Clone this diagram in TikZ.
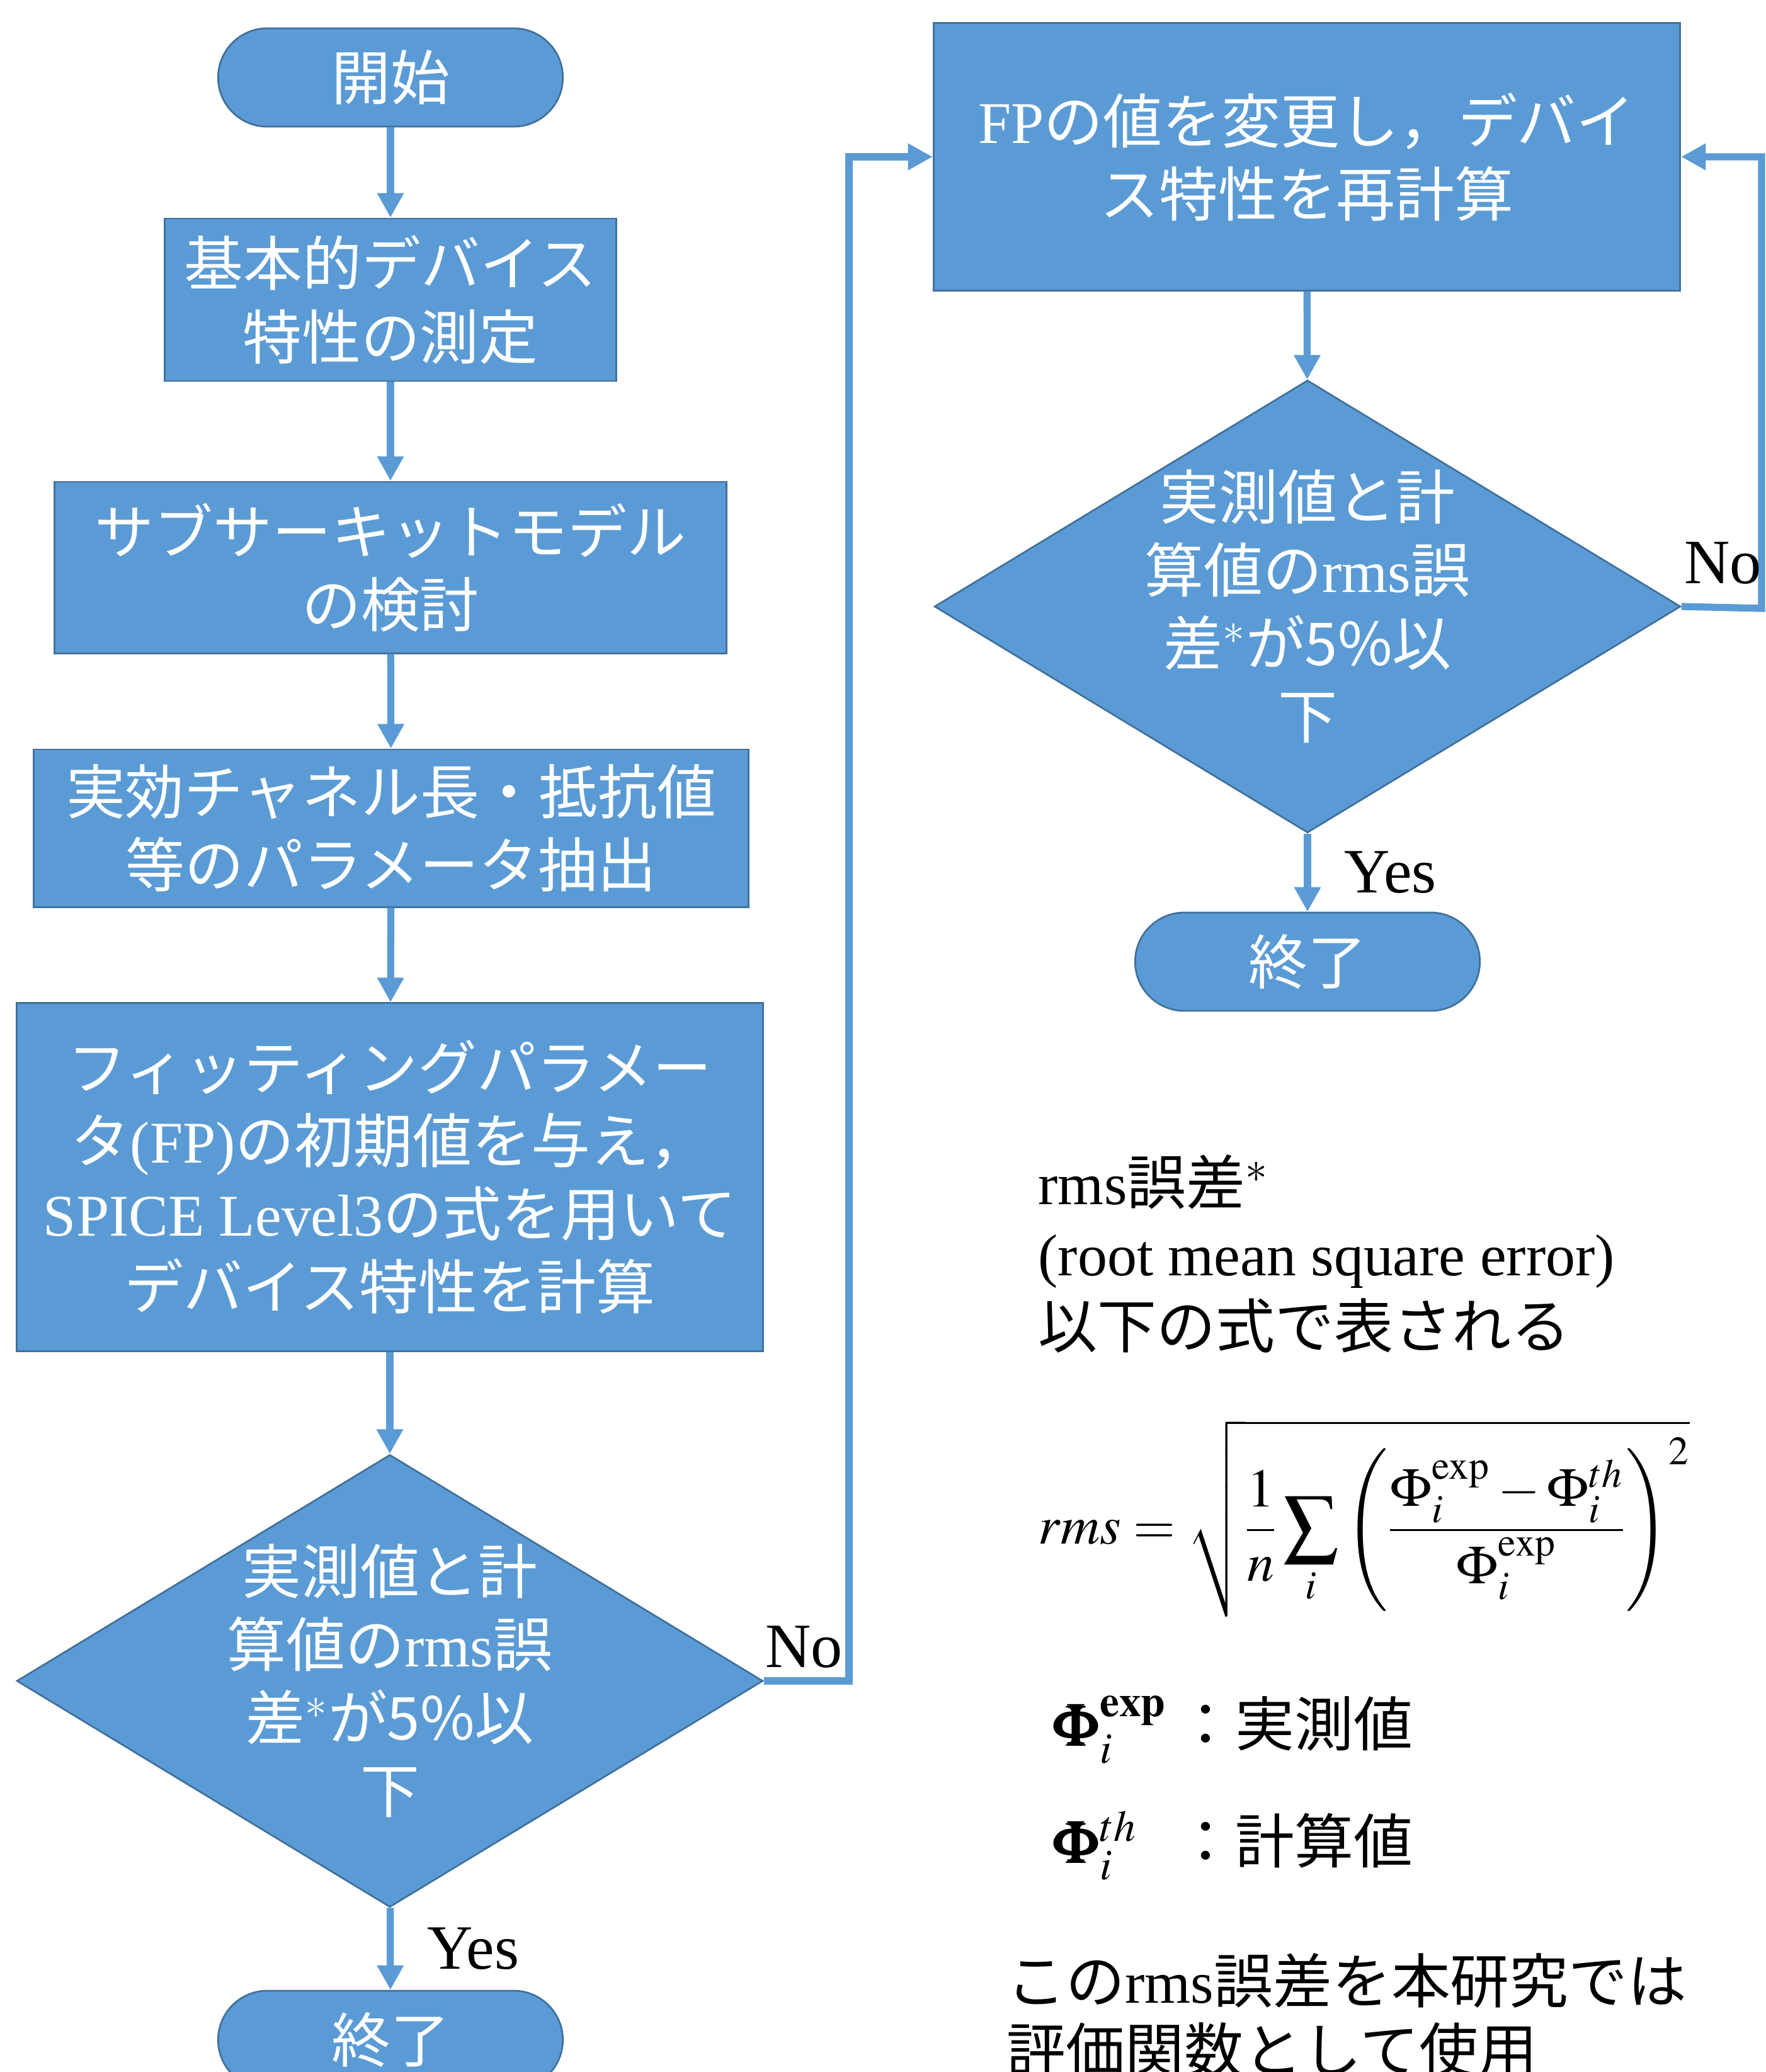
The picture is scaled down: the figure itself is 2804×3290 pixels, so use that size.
\documentclass[tikz,border=0pt]{standalone}
\usepackage{amsmath}
\usepackage{mathptmx}
\usepackage[no-math]{fontspec}
\setmainfont{Liberation Serif}
\newfontfamily\jp{Noto Sans CJK JP}
\usetikzlibrary{shapes.geometric,arrows.meta}
\definecolor{boxblue}{HTML}{5B9BD5}
\definecolor{edgeblue}{HTML}{41719C}

\begin{document}
\begin{tikzpicture}[x=0.01cm,y=-0.01cm,
	every node/.style={font=\jp\fontsize{26.7}{33}\selectfont},
	terminal/.style={draw=edgeblue,fill=boxblue,text=white,line width=0.8pt,rounded corners=0.78cm,minimum width=5.47cm,minimum height=1.56cm,inner sep=0pt},
	process/.style={draw=edgeblue,fill=boxblue,text=white,line width=0.8pt,align=center,inner sep=0pt},
	decision/.style={diamond,draw=edgeblue,fill=boxblue,line width=0.8pt,minimum width=11.84cm,minimum height=7.18cm,inner sep=0pt},
	dtext/.style={text=white,align=center,inner sep=0pt},
	flow/.style={draw=boxblue,line width=3.2pt,-{Triangle[length=0.39cm,width=0.4cm]}},
	answer/.style={text=black,inner sep=0.05cm,font=\rmfamily\fontsize{28.5}{33}\selectfont},
	note/.style={anchor=base west,inner sep=0pt}]
\useasboundingbox (0,0) rectangle (2804,3290);
\clip (0,0) rectangle (2804,3290);

% left column
\node[terminal] (start) at (620,123) {開始};
\node[process,minimum width=7.17cm,minimum height=2.58cm] (measure) at (620,476) {基本的デバイス\\特性の測定};
\node[process,minimum width=10.66cm,minimum height=2.72cm] (subckt) at (620,901) {サブサーキットモデル\\の検討};
\node[process,minimum width=11.34cm,minimum height=2.5cm] (extract) at (621,1315) {実効チャネル長・抵抗値\\等のパラメータ抽出};
\node[process,minimum width=11.84cm,minimum height=5.52cm] (initfp) at (619,1869) {フィッティングパラメー\\タ{\rmfamily(FP)}の初期値を与え，\\{\rmfamily SPICE Level3}の式を用いて\\デバイス特性を計算};
\node[decision,label={[dtext]center:{実測値と計\\算値の{\rmfamily rms}誤\\差$^*$が5\%以\\下}}] (check) at (619,2669) {};
\node[terminal] (finish) at (620,3239) {終了};

% right column
\node[process,minimum width=11.85cm,minimum height=4.24cm] (update) at (2075,249) {{\rmfamily FP}の値を変更し，デバイ\\ス特性を再計算};
\node[decision,label={[dtext]center:{実測値と計\\算値の{\rmfamily rms}誤\\差$^*$が5\%以\\下}}] (recheck) at (2076,963) {};
\node[terminal] (finishb) at (2076,1527) {終了};

\coordinate (loopa) at (1348,2669);
\coordinate (loopb) at (2797,966);

\draw[flow] (start) -- (measure);
\draw[flow] (measure) -- (subckt);
\draw[flow] (subckt) -- (extract);
\draw[flow] (extract) -- (initfp);
\draw[flow] (initfp) -- (check);
\draw[flow] (check) -- node[answer,right=0.48cm] (yesa) {Yes} (finish);
\draw[flow] (check.east) -- node[answer,pos=0,anchor=south west,xshift=-0.08cm,yshift=0.1cm] (noa) {No} (loopa) |- (update.west);
\draw[flow] (update) -- (recheck);
\draw[flow] (recheck) -- node[answer,right=0.48cm] (yesb) {Yes} (finishb);
\draw[flow] (recheck.east) -- node[answer,pos=0,anchor=south west,xshift=-0.06cm,yshift=0.25cm] (nob) {No} (loopb) |- (update.east);

% rms explanation
\node[note] (rmsname) at (1648,1912) {{\rmfamily rms}誤差$^*$};
\node[note] (rmsfull) at (1648,2025) {\rmfamily (root mean square error)};
\node[note] (rmsexpr) at (1648,2140) {以下の式で表される};
\node[anchor=west,inner sep=0pt,font=\fontsize{24.5}{30}\selectfont] (rmsfml) at (1648,2411) {$\displaystyle rms=\sqrt{\frac{1}{n}\sum_{i}\left(\frac{\Phi_i^{\mathrm{exp}}-\Phi_i^{th}}{\Phi_i^{\mathrm{exp}}}\right)^{2}}$};
\node[note] (phiexp) at (1674,2772) {\makebox[1.93cm][l]{$\pmb{\Phi}_i^{\mathbf{exp}}$}：実測値};
\node[note] (phith) at (1674,2958) {\makebox[1.93cm][l]{$\pmb{\Phi}_i^{th}$}：計算値};
\node[note] (usagea) at (1598,3180) {この{\rmfamily rms}誤差を本研究では};
\node[note] (usageb) at (1598,3290) {評価関数として使用};
\end{tikzpicture}
\end{document}
